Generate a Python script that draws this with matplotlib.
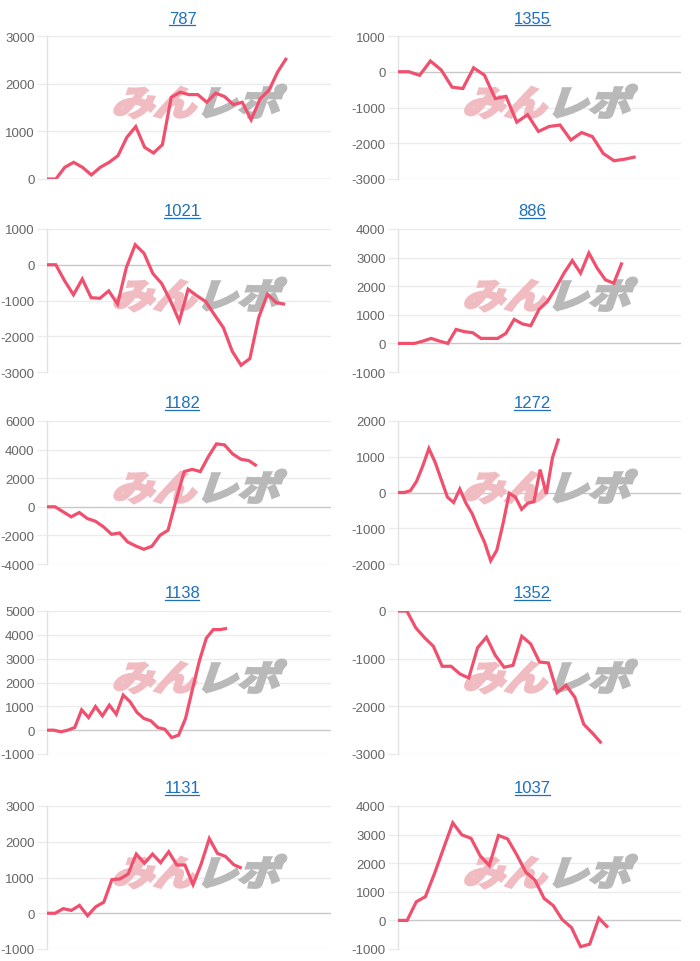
"""Ten small cumulative-balance line charts (みんレポ style), 5 rows x 2 columns."""
import numpy as np
import matplotlib
matplotlib.use("Agg")
import matplotlib.pyplot as plt
from matplotlib.font_manager import FontProperties
from matplotlib.textpath import TextPath
from matplotlib.patches import PathPatch
from matplotlib.transforms import Affine2D, IdentityTransform
from matplotlib.lines import Line2D

# ---- data ----
titles = ["787", "1355", "1021", "886", "1182", "1272", "1138", "1352", "1131", "1037"]

s787 = [0, 0, 245, 350, 245, 85, 245, 350, 490, 875, 1100, 665, 545, 720, 1715, 1820,
        1770, 1770, 1610, 1800, 1730, 1560, 1610, 1240, 1680, 1860, 2250, 2540]
s1355 = [0, 0, -100, 300, 50, -430, -470, 110, -95, -750, -690, -1410, -1200, -1670,
         -1530, -1490, -1910, -1700, -1815, -2285, -2490, -2445, -2380]
s1021 = [0, 0, -450, -840, -400, -920, -940, -730, -1100, -75, 560, 320, -245, -525,
         -1010, -1575, -685, -870, -1030, -1405, -1760, -2420, -2810, -2625, -1480,
         -825, -1060, -1105]
s886 = [0, 0, 0, 80, 175, 80, 0, 490, 410, 375, 175, 175, 175, 350, 840, 680, 620,
        1190, 1465, 1930, 2455, 2895, 2455, 3160, 2630, 2220, 2105, 2830]
s1182 = [0, 0, -350, -700, -400, -820, -1010, -1400, -1920, -1830, -2460, -2740, -2970,
         -2760, -1990, -1640, 470, 2460, 2620, 2460, 3510, 4400, 4330, 3700, 3330,
         3230, 2860]
s1272 = [0, 0, 50, 310, 740, 1230, 850, 360, -130, -280, 95, -300, -590, -1010, -1390,
         -1910, -1610, -870, -20, -130, -470, -300, -255, 640, -40, 975, 1510]
s1138 = [0, 0, -70, 0, 110, 850, 530, 990, 600, 1050, 670, 1470, 1190, 740, 490, 390,
         110, 40, -310, -210, 490, 1720, 2910, 3860, 4220, 4220, 4270]
s1352 = [0, 0, -350, -560, -740, -1160, -1160, -1320, -1405, -770, -550, -930, -1180,
         -1140, -530, -690, -1070, -1090, -1710, -1560, -1810, -2375, -2565, -2775]
s1131 = [0, 0, 130, 80, 220, -70, 180, 310, 940, 960, 1100, 1655, 1400, 1655, 1415,
         1720, 1350, 1350, 800, 1380, 2090, 1675, 1590, 1360, 1260]
s1037 = [0, 0, 650, 830, 1640, 2530, 3410, 2990, 2870, 2260, 1920, 2970, 2850, 2300,
         1690, 1410, 770, 520, 25, -250, -920, -830, 80, -250]
series = [s787, s1355, s1021, s886, s1182, s1272, s1138, s1352, s1131, s1037]

y_ranges = [(0, 3000, 1000), (-3000, 1000, 1000), (-3000, 1000, 1000), (-1000, 4000, 1000),
            (-4000, 6000, 2000), (-2000, 2000, 1000), (-1000, 5000, 1000), (-3000, 0, 1000),
            (-1000, 3000, 1000), (-1000, 4000, 1000)]
# number of x slots on each category axis (data only fills the first part)
x_slots = [32.0, 26.2, 32.2, 34.1, 35.2, 45.8, 41.0, 32.0, 35.0, 31.0]

# ---- layout (pixels) ----
W, H = 700, 962
col_left = [47, 398]
col_right = [331, 681]
row_top = [37, 230, 422, 612, 807]
ax_h = 143
title_cx = [182.5, 532.5]

LINE = "#f0506e"
GRID = "#ebebeb"
ZERO = "#c8c8c8"
TICK = "#666666"
LINK = "#1f6fbf"
WM_PINK = "#f0bcc2"
WM_GRAY = "#b9b9b9"

plt.rcParams["font.family"] = ["Liberation Sans", "DejaVu Sans"]

fig = plt.figure(figsize=(W / 100, H / 100), dpi=100)

jp = FontProperties(family="Noto Sans CJK JP", weight="bold")
wm_a = TextPath((0, 0), "みん", prop=jp, size=1)
wm_b = TextPath((0, 0), "レポ", prop=jp, size=1)

title_items = []
for i, (name, vals) in enumerate(zip(titles, series)):
    r, c = divmod(i, 2)
    l, rr = col_left[c], col_right[c]
    top = row_top[r]
    ax = fig.add_axes([l / W, 1 - (top + ax_h) / H, (rr - l) / W, ax_h / H])

    lo, hi, step = y_ranges[i]
    ticks = np.arange(lo, hi + step, step)

    # watermark logo (italic, slightly squashed), drawn in pixel space under the line
    wx = l + 0.225 * (rr - l)
    wy = H - (top + 0.555 * ax_h)
    sx, sy = 42, 35
    ta = Affine2D().skew_deg(16, 0).scale(sx, sy).translate(wx, wy)
    tb = Affine2D().skew_deg(16, 0).scale(sx, sy).translate(wx + 2.0 * sx, wy)
    ax.add_patch(PathPatch(wm_a, transform=ta + IdentityTransform(), fc=WM_PINK,
                           ec=WM_PINK, lw=2.2, zorder=1, clip_on=False))
    ax.add_patch(PathPatch(wm_b, transform=tb + IdentityTransform(), fc=WM_GRAY,
                           ec=WM_GRAY, lw=2.2, zorder=1, clip_on=False))

    for t in ticks:
        ax.axhline(t, color=ZERO if t == 0 else GRID, lw=1.0, zorder=0.5)

    ax.plot(np.arange(len(vals)), vals, color=LINE, lw=2.3, zorder=3,
            solid_joinstyle="miter", solid_capstyle="butt")

    ax.set_xlim(0, x_slots[i])
    ax.set_ylim(lo, hi)
    ax.set_yticks(ticks)
    ax.set_yticklabels([f"{int(t)}" for t in ticks])
    ax.set_xticks([])
    ax.tick_params(axis="y", length=7, width=1, color=GRID, pad=2,
                   labelsize=9.5, labelcolor=TICK)
    for side in ["top", "right", "bottom"]:
        ax.spines[side].set_visible(False)
    ax.spines["left"].set_color("#e2e2e2")
    ax.spines["left"].set_linewidth(1.0)
    ax.set_facecolor("none")

    ty = top - 13.5
    txt = fig.text(title_cx[c] / W, 1 - ty / H, name, ha="center", va="baseline",
                   fontsize=12, color=LINK)
    title_items.append((txt, ty))

# underline the link-style titles
fig.canvas.draw()
renderer = fig.canvas.get_renderer()
for txt, ty in title_items:
    bb = txt.get_window_extent(renderer)
    yl = 1 - (ty + 2.2) / H
    fig.add_artist(Line2D([(bb.x0 + 0.5) / W, (bb.x1 - 1.5) / W], [yl, yl],
                          color=LINK, lw=0.9))

fig.savefig("out.png", dpi=100)
